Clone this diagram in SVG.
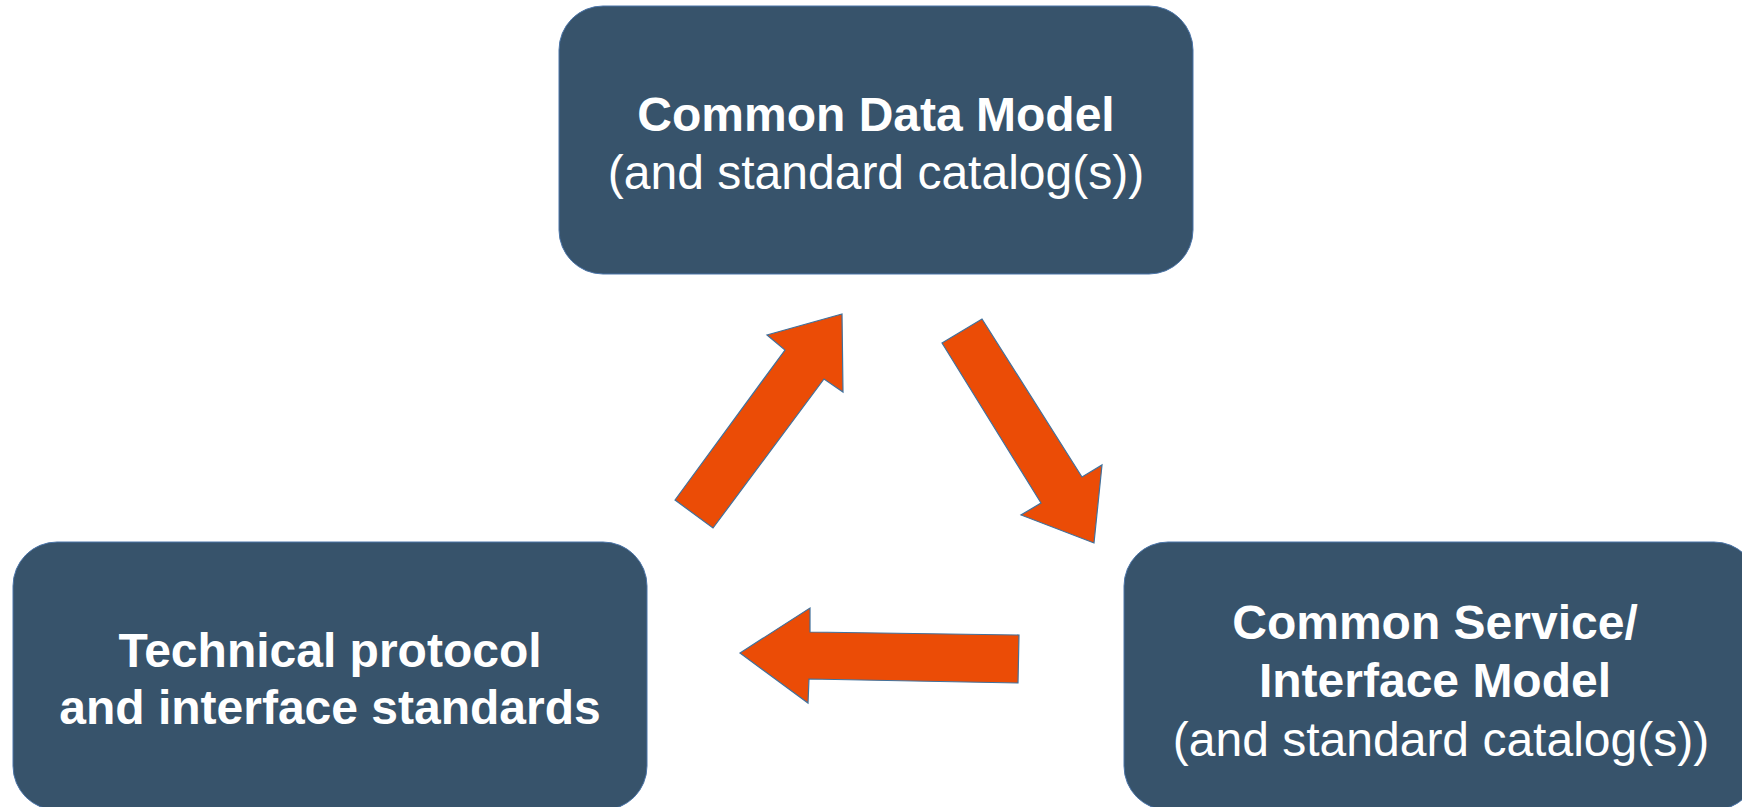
<svg xmlns="http://www.w3.org/2000/svg" width="1742" height="807" viewBox="0 0 1742 807">
<style>
.box{fill:#37536b;stroke:#4a74a8;stroke-width:1}
.arrow{fill:#eb4c06;stroke:#41719c;stroke-width:1.2;stroke-linejoin:miter}
.t{font-family:"Liberation Sans",Arial,sans-serif;font-size:48px;fill:#ffffff;text-anchor:middle}
.b{font-weight:bold}
</style>
<rect width="1742" height="807" fill="#ffffff"/>
<g id="node-data-model">
<rect class="box" x="559" y="6" width="634" height="268" rx="44" ry="44"/>
<text class="t b" x="876" y="131">Common Data Model</text>
<text class="t" x="876" y="189">(and standard catalog(s))</text>
</g>
<g id="node-service-model">
<rect class="box" x="1124" y="542" width="634" height="268" rx="44" ry="44"/>
<text class="t b" x="1435" y="639">Common Service/</text>
<text class="t b" x="1435" y="697">Interface Model</text>
<text class="t" x="1441" y="756">(and standard catalog(s))</text>
</g>
<g id="node-technical">
<rect class="box" x="13" y="542" width="634" height="268" rx="44" ry="44"/>
<text class="t b" x="330" y="667">Technical protocol</text>
<text class="t b" x="330" y="724">and interface standards</text>
</g>
<g id="connectors">
<polygon class="arrow" points="675,500 713,528 824,379 843,392 842,314 767,335 785,350"/>
<polygon class="arrow" points="942,343 982,319 1082,477 1102,465 1094,543 1021,515 1041,503"/>
<polygon class="arrow" points="1019,635 1018,683 809,679 808,703 740,653 810,608 810,632"/>
</g>
</svg>
